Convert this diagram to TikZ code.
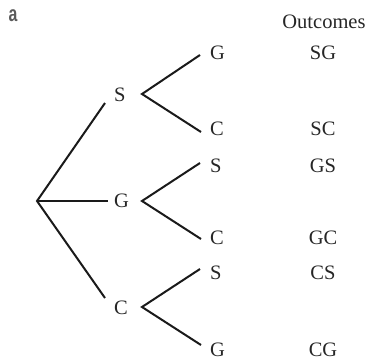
\documentclass[tikz,border=0pt]{standalone}
\usepackage{fontspec}
\setmainfont{Liberation Serif}
\newfontfamily\labelsans{Liberation Sans Bold}
\definecolor{txt}{HTML}{262626}
\definecolor{ln}{HTML}{1A1A1A}
\definecolor{panel}{HTML}{5A5A5A}
\begin{document}
\begin{tikzpicture}[x=1pt,y=1pt,
  lbl/.style={inner sep=0pt, outer sep=0pt, anchor=west, text height=13.5pt, text depth=0pt,
     text=txt, font=\fontsize{20.5}{24}\selectfont},
  outc/.style={inner sep=0pt, outer sep=0pt, anchor=center, text height=13.5pt, text depth=0pt,
     text=txt, font=\fontsize{20.5}{24}\selectfont},
  branch/.style={draw=ln, line width=2pt, line join=miter}]
\useasboundingbox (0,0) rectangle (370,360);
% panel letter
\node[inner sep=0pt, text=panel, font=\labelsans\fontsize{22}{22}\selectfont, xscale=0.72] (panel) at (13,344) {a};
% root
\coordinate (root) at (37,159);
% level 1 labels
\node[lbl] (S1) at (114,265) {S};
\node[lbl] (G1) at (114,159) {G};
\node[lbl] (C1) at (114,52) {C};
% level 1 line ends
\coordinate (eS1) at (105,257);
\coordinate (eG1) at (108,159);
\coordinate (eC1) at (105,62);
% vertices
\coordinate (vS) at (142,266);
\coordinate (vG) at (142,159);
\coordinate (vC) at (142,53);
% level 2 labels
\node[lbl] (SG) at (210,307) {G};
\node[lbl] (SC) at (210,231) {C};
\node[lbl] (GS) at (210,194) {S};
\node[lbl] (GC) at (210,122) {C};
\node[lbl] (CS) at (210,87) {S};
\node[lbl] (CG) at (210,10) {G};
% level 2 line ends
\coordinate (eSG) at (200,305);
\coordinate (eSC) at (201,228);
\coordinate (eGS) at (200,197);
\coordinate (eGC) at (201,121);
\coordinate (eCS) at (200,91);
\coordinate (eCG) at (201,15);
% first-level branches
\draw[branch] (eS1) -- (root) -- (eC1);
\draw[branch] (root) -- (eG1);
% second-level branches
\draw[branch] (eSG) -- (vS) -- (eSC);
\draw[branch] (eGS) -- (vG) -- (eGC);
\draw[branch] (eCS) -- (vC) -- (eCG);
% outcomes
\node[outc] (head) at (324,338) {Outcomes};
\node[outc] (oSG) at (323,307) {SG};
\node[outc] (oSC) at (323,231) {SC};
\node[outc] (oGS) at (323,194) {GS};
\node[outc] (oGC) at (323,122) {GC};
\node[outc] (oCS) at (323,87) {CS};
\node[outc] (oCG) at (323,10) {CG};
\end{tikzpicture}
\end{document}
